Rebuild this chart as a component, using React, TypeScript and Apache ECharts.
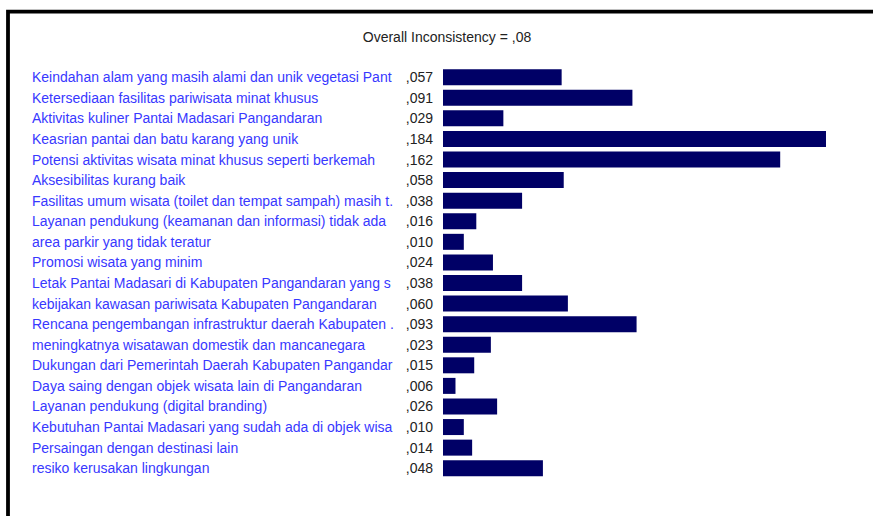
import React, { useEffect, useRef } from "react";
import * as echarts from "echarts";

const categories: string[] = [
  "Keindahan alam yang masih alami dan unik vegetasi Pant",
  "Ketersediaan fasilitas pariwisata minat khusus",
  "Aktivitas kuliner Pantai Madasari Pangandaran",
  "Keasrian pantai dan batu karang yang unik",
  "Potensi aktivitas wisata minat khusus seperti berkemah",
  "Aksesibilitas kurang baik",
  "Fasilitas umum wisata (toilet dan tempat sampah) masih t.",
  "Layanan pendukung (keamanan dan informasi) tidak ada",
  "area parkir yang tidak teratur",
  "Promosi wisata yang minim",
  "Letak Pantai Madasari di Kabupaten Pangandaran yang s",
  "kebijakan kawasan pariwisata Kabupaten Pangandaran",
  "Rencana pengembangan infrastruktur daerah Kabupaten .",
  "meningkatnya wisatawan domestik dan mancanegara",
  "Dukungan dari Pemerintah Daerah Kabupaten Pangandar",
  "Daya saing dengan objek wisata lain di Pangandaran",
  "Layanan pendukung (digital branding)",
  "Kebutuhan Pantai Madasari yang sudah ada di objek wisa",
  "Persaingan dengan destinasi lain",
  "resiko kerusakan lingkungan",
];

const weights: number[] = [
  0.057, 0.091, 0.029, 0.184, 0.162, 0.058, 0.038, 0.016, 0.01, 0.024,
  0.038, 0.06, 0.093, 0.023, 0.015, 0.006, 0.026, 0.01, 0.014, 0.048,
];

const titleText = "Overall Inconsistency = ,08";

const fmt = (v: number) => v.toFixed(3).replace(/^0\./, ",");

export default function App() {
  const ref = useRef<HTMLDivElement>(null);
  useEffect(() => {
    if (!ref.current) return;
    const chart = echarts.init(ref.current, undefined, { renderer: "svg" });
    chart.setOption({
      animation: false,
      backgroundColor: "#ffffff",
      title: {
        text: titleText,
        left: 442,
        top: 25,
        textAlign: "center",
        textStyle: {
          fontFamily: "Liberation Sans, Arial, sans-serif",
          fontSize: 14,
          fontWeight: "normal",
          color: "#222222",
        },
      },
      graphic: [
        {
          type: "rect",
          shape: { x: 8, y: 11.7, width: 1000, height: 1000 },
          style: { fill: "none", stroke: "#000000", lineWidth: 3.8 },
          silent: true,
        },
      ],
      grid: { left: 443, top: 66.9, width: 416.3, height: 411.6 },
      xAxis: {
        type: "value",
        min: 0,
        max: 0.2,
        show: false,
      },
      yAxis: {
        type: "category",
        data: categories,
        inverse: true,
        axisLine: { show: false },
        axisTick: { show: false },
        splitLine: { show: false },
        axisLabel: {
          align: "left",
          margin: 411,
          fontFamily: "Liberation Sans, Arial, sans-serif",
          fontSize: 14,
          color: "#3838ff",
        },
      },
      series: [
        {
          type: "bar",
          data: weights,
          barWidth: 16,
          itemStyle: { color: "#000066" },
          label: {
            show: true,
            position: "left",
            distance: 10,
            formatter: (p: any) => fmt(p.value),
            fontFamily: "Liberation Sans, Arial, sans-serif",
            fontSize: 14,
            color: "#222222",
          },
        },
      ],
    });
    return () => chart.dispose();
  }, []);
  return (
    <div
      ref={ref}
      style={{ position: "fixed", left: 0, top: 0, width: 873, height: 516 }}
    />
  );
}
